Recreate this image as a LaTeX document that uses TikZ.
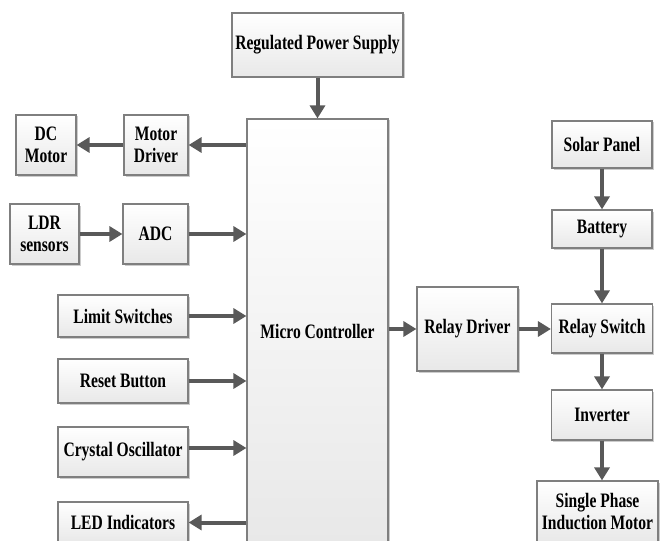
\documentclass[tikz,border=0pt]{standalone}
\usepackage{fontspec}
\setmainfont{Liberation Serif}[FakeStretch=0.76]
\usetikzlibrary{arrows.meta,shadows}
\definecolor{boxline}{HTML}{7F7F7F}
\definecolor{arrcol}{HTML}{595959}
\begin{document}
\begin{tikzpicture}[x=1pt,y=-1pt,
  blk/.style={draw=boxline, line width=1.2pt, top color=white, bottom color=black!9,
    drop shadow={shadow xshift=1.5pt, shadow yshift=-1.5pt, fill=black, opacity=0.2},
    font=\fontsize{20.5}{22}\selectfont\bfseries, align=center, inner sep=0pt},
  arr/.style={draw=arrcol, line width=4pt, -{Triangle[length=13pt,width=15pt]}}]
\useasboundingbox (0,0) rectangle (660,540);
% nodes
\node[blk, minimum width=171pt, minimum height=64pt] (rps) at (317.5,45) {Regulated Power Supply};
\node[blk, minimum width=141pt, minimum height=424pt] (mc) at (317.5,331) {Micro Controller};
\node[blk, minimum width=60pt, minimum height=60pt] (dc) at (46,145) {DC\\Motor};
\node[blk, minimum width=64pt, minimum height=60pt] (md) at (156,145) {Motor\\Driver};
\node[blk, minimum width=69pt, minimum height=60pt] (ldr) at (44.5,234) {LDR\\sensors};
\node[blk, minimum width=65pt, minimum height=60pt] (adc) at (155.5,234) {ADC};
\node[blk, minimum width=130pt, minimum height=42pt] (ls) at (123,316) {Limit Switches};
\node[blk, minimum width=130pt, minimum height=44pt] (rb) at (123,381) {Reset Button};
\node[blk, minimum width=130pt, minimum height=50pt] (co) at (123,452) {Crystal Oscillator};
\node[blk, minimum width=130pt, minimum height=41pt] (led) at (123,522.5) {LED Indicators};
\node[blk, minimum width=101pt, minimum height=84pt] (rd) at (467.5,329) {Relay Driver};
\node[blk, minimum width=100pt, minimum height=47pt] (sp) at (602,144.5) {Solar Panel};
\node[blk, minimum width=100pt, minimum height=38pt] (bat) at (602,229) {Battery};
\node[blk, minimum width=101pt, minimum height=49pt] (rs) at (602,328.5) {Relay Switch};
\node[blk, minimum width=101pt, minimum height=50pt] (inv) at (602,415) {Inverter};
\node[blk, minimum width=121pt, minimum height=62pt] (spim) at (597.5,512) {Single Phase\\Induction Motor};
\coordinate (coout) at ([yshift=4pt]co.east);
% connectors
\draw[arr] (rps.south) -- (mc.north -| rps.south);
\draw[arr] (mc.west |- md.east) -- (md.east);
\draw[arr] (md.west) -- (dc.east);
\draw[arr] (ldr.east) -- (adc.west);
\draw[arr] (adc.east) -- (mc.west |- adc.east);
\draw[arr] (ls.east) -- (mc.west |- ls.east);
\draw[arr] (rb.east) -- (mc.west |- rb.east);
\draw[arr] (coout) -- (mc.west |- coout);
\draw[arr] (mc.west |- led.east) -- (led.east);
\draw[arr] (mc.east |- rd.west) -- (rd.west);
\draw[arr] (rd.east) -- (rs.west |- rd.east);
\draw[arr] (sp.south) -- (bat.north);
\draw[arr] (bat.south) -- (rs.north);
\draw[arr] (rs.south) -- (inv.north);
\draw[arr] (inv.south) -- (inv.south |- spim.north);
\end{tikzpicture}
\end{document}
